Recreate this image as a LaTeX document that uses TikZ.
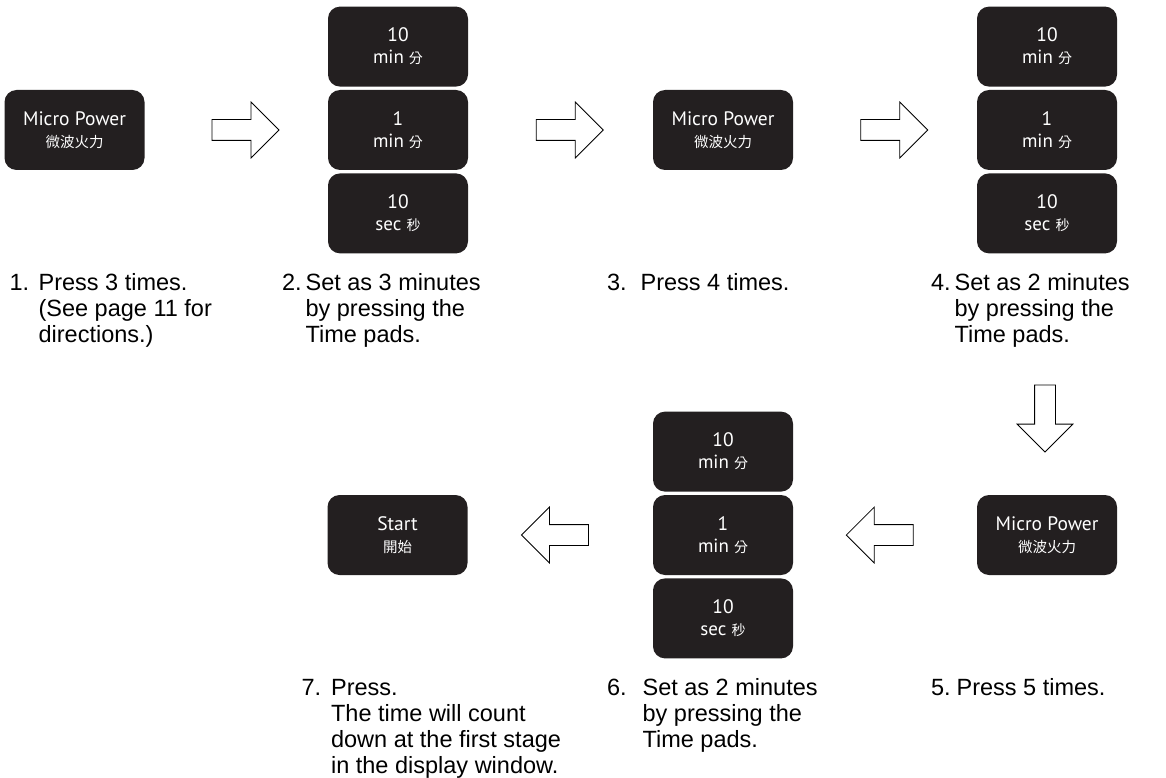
\documentclass[tikz,border=0pt]{standalone}
\usepackage{fontspec}
\setmainfont{Liberation Sans}
\newfontfamily\keyfont{PT Sans}
\newfontfamily\cjk{Noto Sans CJK TC}
\usetikzlibrary{positioning, shapes.arrows, calc}
\definecolor{keyblack}{HTML}{231F20}
\tikzset{
  padkey/.style     = {rectangle, rounded corners=12pt, fill=keyblack, text=white,
                       minimum width=140pt, minimum height=80pt, inner sep=0pt,
                       align=center, font=\keyfont\fontsize{19.5}{22}\selectfont},
  blockarrow/.style = {single arrow, draw=black, fill=white, line width=0.8pt,
                       single arrow head extend=17.5pt, inner sep=10pt,
                       text height=0pt, text depth=0pt, text width=0pt, minimum height=67pt},
  steptext/.style   = {anchor=base west, inner sep=0pt,
                       font=\fontsize{23.5}{26}\selectfont},
}
% number, then the lines of the step hung beside it
\newcommand{\stepitem}[3][10pt]{\begin{tabular}[t]{@{}l@{\hspace{#1}}l@{}}#2&\begin{tabular}[t]{@{}l@{}}#3\end{tabular}\end{tabular}}
\newcommand{\unitline}[2]{{\fontsize{19}{22}\selectfont #1\ \cjk\fontsize{14}{22}\selectfont #2}}
\newcommand{\cjkline}[1]{{\cjk\fontsize{14.5}{22}\selectfont #1}}

\begin{document}
\begin{tikzpicture}[x=1pt, y=-1pt]
\useasboundingbox (0,0) rectangle (1166,778);

% Top row: power key, time pads, power key, time pads
\node (pow1) [padkey] at (74.5,130) {Micro Power\\\cjkline{微波火力}};
\node (onemin1) [padkey] at (398,130) {1\\\unitline{min}{分}};
\node (tenmin1) [padkey, above=3pt of onemin1] {10\\\unitline{min}{分}};
\node (tensec1) [padkey, below=3pt of onemin1] {10\\\unitline{sec}{秒}};
\node (pow3) [padkey] at (723,130) {Micro Power\\\cjkline{微波火力}};
\node (onemin2) [padkey] at (1047,130) {1\\\unitline{min}{分}};
\node (tenmin2) [padkey, above=3pt of onemin2] {10\\\unitline{min}{分}};
\node (tensec2) [padkey, below=3pt of onemin2] {10\\\unitline{sec}{秒}};

% Bottom row, read right to left
\node (pow5) [padkey] at (1047,535) {Micro Power\\\cjkline{微波火力}};
\node (onemin3) [padkey] at (723,535) {1\\\unitline{min}{分}};
\node (tenmin3) [padkey, above=3pt of onemin3] {10\\\unitline{min}{分}};
\node (tensec3) [padkey, below=3pt of onemin3] {10\\\unitline{sec}{秒}};
\node (start) [padkey] at (397.5,535) {Start\\\cjkline{開始}};

% Hollow arrows between the steps
\node (ar1) [blockarrow, xshift=4pt] at ($(pow1)!0.5!(onemin1)$) {};
\node (ar2) [blockarrow, xshift=4pt] at ($(onemin1)!0.5!(pow3)$) {};
\node (ar3) [blockarrow, xshift=4pt] at ($(pow3)!0.5!(onemin2)$) {};
\node (ar4) [blockarrow, shape border rotate=270] at ($(pow5.north)+(-2,-81.5)$) {};
\node (ar5) [blockarrow, shape border rotate=180] at ($(pow5)!0.5!(onemin3)$) {};
\node (ar6) [blockarrow, shape border rotate=180] at ($(onemin3)!0.5!(start)$) {};

% Step captions
\node (t1) [steptext] at ($(pow1.south west)+(5,120)$)
  {\stepitem[9.5pt]{1.}{Press 3 times.\\(See page 11 for\\directions.)}};
\node (t2) [steptext] at ($(tensec1.south west)+(-46,37)$)
  {\stepitem[4pt]{2.}{Set as 3 minutes\\by pressing the\\Time pads.}};
\node (t3) [steptext] at ($(pow3.south west)+(-46,120)$)
  {\stepitem[14pt]{3.}{Press 4 times.}};
\node (t4) [steptext] at ($(tensec2.south west)+(-46,37)$)
  {\stepitem[4pt]{4.}{Set as 2 minutes\\by pressing the\\Time pads.}};
\node (t5) [steptext] at ($(pow5.south west)+(-46,120)$)
  {\stepitem[6pt]{5.}{Press 5 times.}};
\node (t6) [steptext] at ($(tensec3.south west)+(-46,37)$)
  {\stepitem[16pt]{6.}{Set as 2 minutes\\by pressing the\\Time pads.}};
\node (t7) [steptext] at ($(start.south west)+(-26,120)$)
  {\stepitem[10pt]{7.}{Press.\\The time will count\\down at the first stage\\in the display window.}};

\end{tikzpicture}
\end{document}
